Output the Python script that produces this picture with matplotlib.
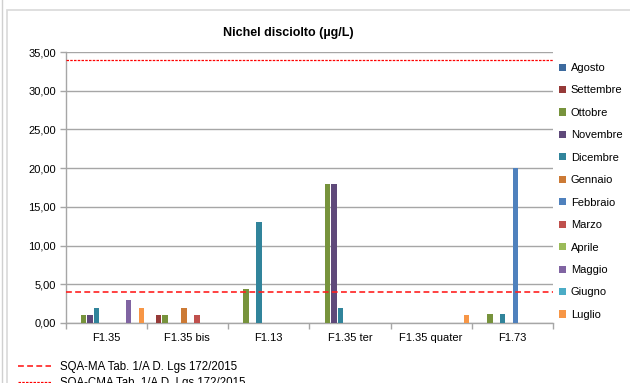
import matplotlib.pyplot as plt
import numpy as np
from matplotlib.patches import Rectangle
from matplotlib.lines import Line2D

plt.rcParams['font.family'] = ['Liberation Sans', 'DejaVu Sans']

stations = ['F1.35', 'F1.35 bis', 'F1.13', 'F1.35 ter', 'F1.35 quater', 'F1.73']
months = ['Agosto', 'Settembre', 'Ottobre', 'Novembre', 'Dicembre', 'Gennaio',
          'Febbraio', 'Marzo', 'Aprile', 'Maggio', 'Giugno', 'Luglio']

agosto = [0, 0, 0, 0, 0, 0]
settembre = [0, 1.0, 0, 0, 0, 0]
ottobre = [1.0, 1.0, 4.4, 18.0, 0, 1.1]
novembre = [1.0, 0, 0, 18.0, 0, 0]
dicembre = [2.0, 0, 13.0, 1.9, 0, 1.2]
gennaio = [0, 2.0, 0, 0, 0, 0]
febbraio = [0, 0, 0, 0, 0, 20.0]
marzo = [0, 1.0, 0, 0, 0, 0]
aprile = [0, 0, 0, 0, 0, 0]
maggio = [3.0, 0, 0, 0, 0, 0]
giugno = [0, 0, 0, 0, 0, 0]
luglio = [1.9, 0, 0, 0, 1.0, 0]

sqa_ma = 4.0
sqa_cma = 34.0

series = [agosto, settembre, ottobre, novembre, dicembre, gennaio,
          febbraio, marzo, aprile, maggio, giugno, luglio]
colors = ['#3C6A9E', '#963A38', '#77933C', '#5F497A', '#31849B', '#CC7A35',
          '#4F81BD', '#C0504D', '#9BBB59', '#8064A2', '#4BACC6', '#F79646']

W, H = 630, 383
fig = plt.figure(figsize=(W / 100, H / 100), dpi=100)

# chart frame (Excel style)
fig.patches.append(Rectangle((7 / W, -0.05), 1.0, 1 - 10 / H + 0.05, transform=fig.transFigure,
                             fill=False, edgecolor='#D9D9D9', linewidth=1.2))
fig.lines.append(Line2D([1.5 / W, 1.5 / W], [0, 1], transform=fig.transFigure,
                        color='#D0D0D0', linewidth=1))

ax = fig.add_axes([65.5 / W, 1 - 323 / H, (553 - 65.5) / W, (323 - 52) / H])

x = np.arange(len(stations))
slot = 0.079
for i, (vals, c) in enumerate(zip(series, colors)):
    ax.bar(x + (i - 5.5) * slot, vals, width=slot * 0.85, color=c, linewidth=0,
           label=months[i], zorder=3)

ax.set_xlim(-0.5, len(stations) - 0.5)
ax.set_ylim(0, 35)
ax.set_yticks(np.arange(0, 36, 5))
ax.set_yticklabels([f'{v:.2f}'.replace('.', ',') for v in np.arange(0, 36, 5)], fontsize=8)
ax.grid(axis='y', color='#A6A6A6', linewidth=1, zorder=0)

ax.set_xticks(x)
ax.set_xticklabels(stations, fontsize=8)
ax.tick_params(axis='x', which='major', length=0, pad=7)
ax.set_xticks(np.arange(-0.5, len(stations)), minor=True)
ax.tick_params(axis='x', which='minor', length=4, color='#A6A6A6', width=1)
ax.tick_params(axis='y', length=4, color='#A6A6A6', width=1, pad=3)

for s in ['top', 'right']:
    ax.spines[s].set_visible(False)
for s in ['left', 'bottom']:
    ax.spines[s].set_color('#A6A6A6')
    ax.spines[s].set_linewidth(1)

l1 = ax.axhline(sqa_ma, color='#FF2020', linestyle=(0, (3.5, 2)), linewidth=1.2, zorder=4,
                label='SQA-MA Tab. 1/A D. Lgs 172/2015')
l2 = ax.axhline(sqa_cma, color='#FF0000', linestyle=(0, (2, 1)), linewidth=0.9, zorder=4,
                label='SQA-CMA Tab. 1/A D. Lgs 172/2015')

fig.text(288 / W, 1 - 33 / H, 'Nichel disciolto (µg/L)', ha='center', va='center',
         fontsize=9, fontweight='bold')

handles, labels = ax.get_legend_handles_labels()
bar_h = [h for h, l in zip(handles, labels) if l in months]
bar_l = [l for l in labels if l in months]
fig.legend(bar_h, bar_l, loc='upper left', bbox_to_anchor=(559 / W, 1 - 63 / H),
           frameon=False, fontsize=8, handlelength=0.6, handleheight=0.6,
           handletextpad=0.45, labelspacing=1.12, borderpad=0, borderaxespad=0)

fig.legend([l1, l2], [l1.get_label(), l2.get_label()], loc='upper left',
           bbox_to_anchor=(18 / W, 1 - 361 / H), frameon=False, fontsize=8.3,
           handlelength=2.9, handletextpad=0.7, labelspacing=0.35,
           borderpad=0, borderaxespad=0)

fig.savefig('out.png', dpi=100)
